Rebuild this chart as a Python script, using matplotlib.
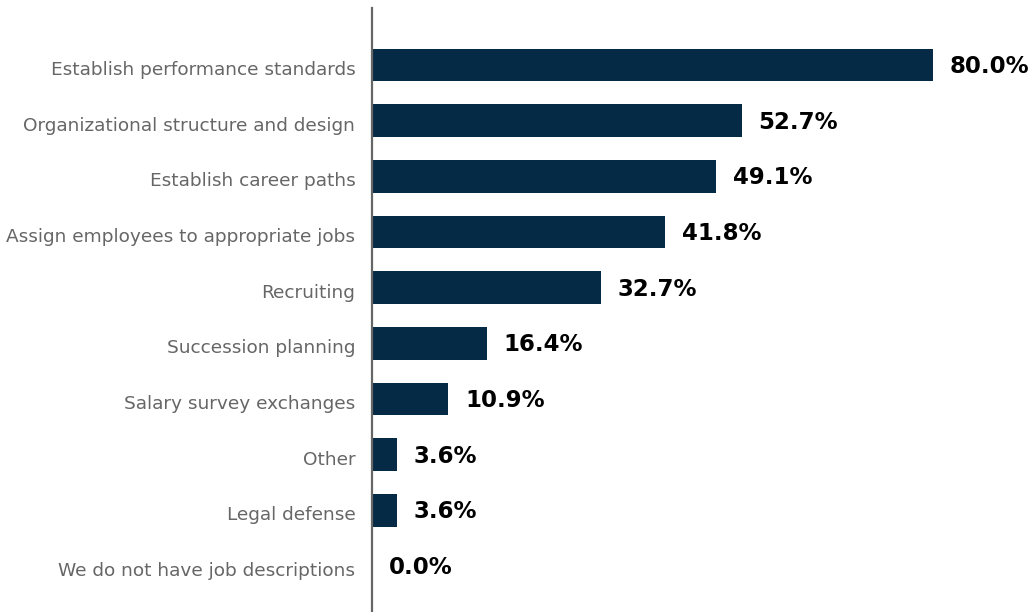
import matplotlib.pyplot as plt
import matplotlib.transforms as mtransforms

categorias = [
    "Establish performance standards",
    "Organizational structure and design",
    "Establish career paths",
    "Assign employees to appropriate jobs",
    "Recruiting",
    "Succession planning",
    "Salary survey exchanges",
    "Other",
    "Legal defense",
    "We do not have job descriptions",
]
valores = [80.0, 52.7, 49.1, 41.8, 32.7, 16.4, 10.9, 3.6, 3.6, 0.0]

fig = plt.figure(figsize=(10.36, 6.12), dpi=100)
ax = fig.add_axes([372 / 1036, 0, 664 / 1036, 604 / 612])

pos = list(range(len(categorias)))
ax.barh(pos, valores, height=0.59, color="#052a45")

# rótulos de valor à direita de cada barra
for y, v in zip(pos, valores):
    ax.annotate(f"{v:.1f}%", (v, y), xytext=(12, -1), textcoords="offset points",
                ha="left", va="center", fontsize=16.5, fontweight="bold",
                family="DejaVu Sans", color="#000000")

ax.set_yticks(pos)
ax.set_yticklabels(categorias, fontsize=13.3, color="#666666", family="DejaVu Sans")
ax.tick_params(axis="y", length=0, pad=12)
# desce um pouco os nomes das categorias
desloc = mtransforms.ScaledTranslation(0, -3 / 100, fig.dpi_scale_trans)
for lbl in ax.get_yticklabels():
    lbl.set_transform(lbl.get_transform() + desloc)
ax.set_xticks([])
ax.set_xlim(0, 94.7)
ax.set_ylim(9.826, -1.023)

for lado in ["top", "right", "bottom"]:
    ax.spines[lado].set_visible(False)
ax.spines["left"].set_color("#666666")
ax.spines["left"].set_linewidth(1.6)

fig.savefig("out.png", dpi=100)
